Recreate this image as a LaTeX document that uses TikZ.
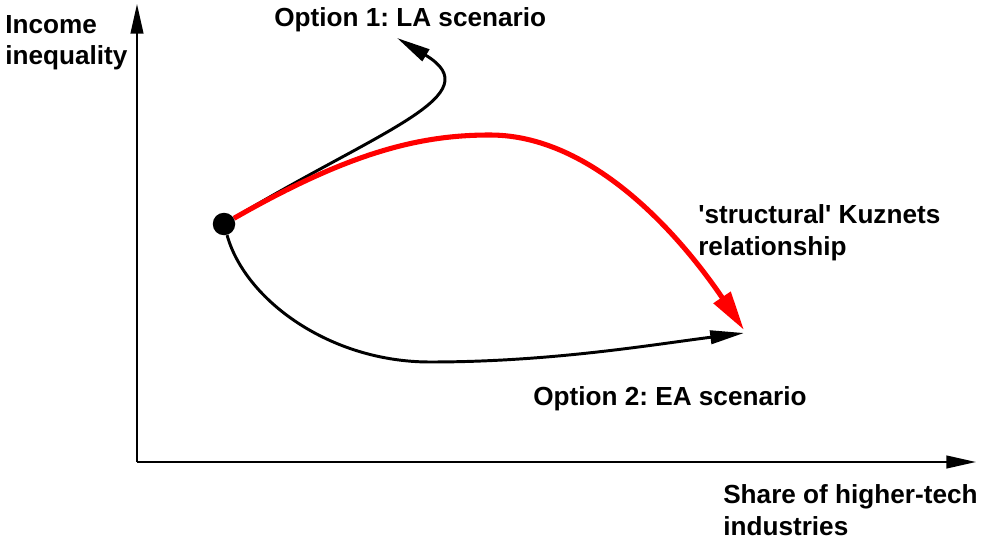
\documentclass[tikz,border=0pt]{standalone}
\usepackage{fontspec}
\setmainfont{Liberation Sans}
\usetikzlibrary{arrows.meta, positioning}
\definecolor{kuznets}{RGB}{255, 0, 0}
\frenchspacing

\tikzset{
    axis/.style={line width=1.4pt, -{Triangle[length=21pt, width=9pt]}},
    path/.style={line width=2.1pt, -{Triangle[length=24pt, width=9.5pt]}},
    redpath/.style={kuznets, line width=3.6pt, -{Triangle[length=28pt, width=14pt]}},
    label/.style={font=\bfseries\fontsize{18.6}{22.7}\selectfont, inner sep=0pt, align=left, anchor=base west}
}

\begin{document}
\begin{tikzpicture}[x=0.025cm, y=-0.025cm]
        \useasboundingbox (0,0) rectangle (983,544);

        % 坐标轴
        \coordinate (origin) at (137,462);
        \coordinate (ytip) at (137,4);
        \coordinate (xtip) at (976,462);
        \draw[axis] (origin) -- (ytip);
        \draw[axis] (origin) -- (xtip);

        % 轴标签 (基线 = 最后一行)
        \node[label] (ylab) at (5,65) {Income\\inequality};
        \node[label] (xlab) at (723,535) {Share of higher-tech\\industries};

        % 起点
        \node[circle, fill=black, minimum size=16pt, inner sep=0pt] (dot) at (224,224) {};

        % 终点
        \coordinate (latip) at (397,38);
        \coordinate (eatip) at (744,333);
        \coordinate (kztip) at (744,330);

        % Option 1
        \draw[path] (dot) .. controls (380,130) and (492,95) .. (latip);
        % Option 2
        \draw[path] (dot) .. controls (245,300) and (330,362) .. (430,362)
                          .. controls (550,362) and (650,345) .. (eatip);
        % Kuznets
        \draw[redpath] (dot) .. controls (350,152) and (420,135) .. (490,135)
                             .. controls (600,135) and (690,250) .. (kztip);

        % 标签
        \node[label] (la) at (274,27) {Option 1: LA scenario};
        \node[label] (ea) at (533,405) {Option 2: EA scenario};
        \node[label] (kz) at (698,255) {\textquotesingle structural\textquotesingle{} Kuznets\\relationship};

    \end{tikzpicture}
\end{document}
